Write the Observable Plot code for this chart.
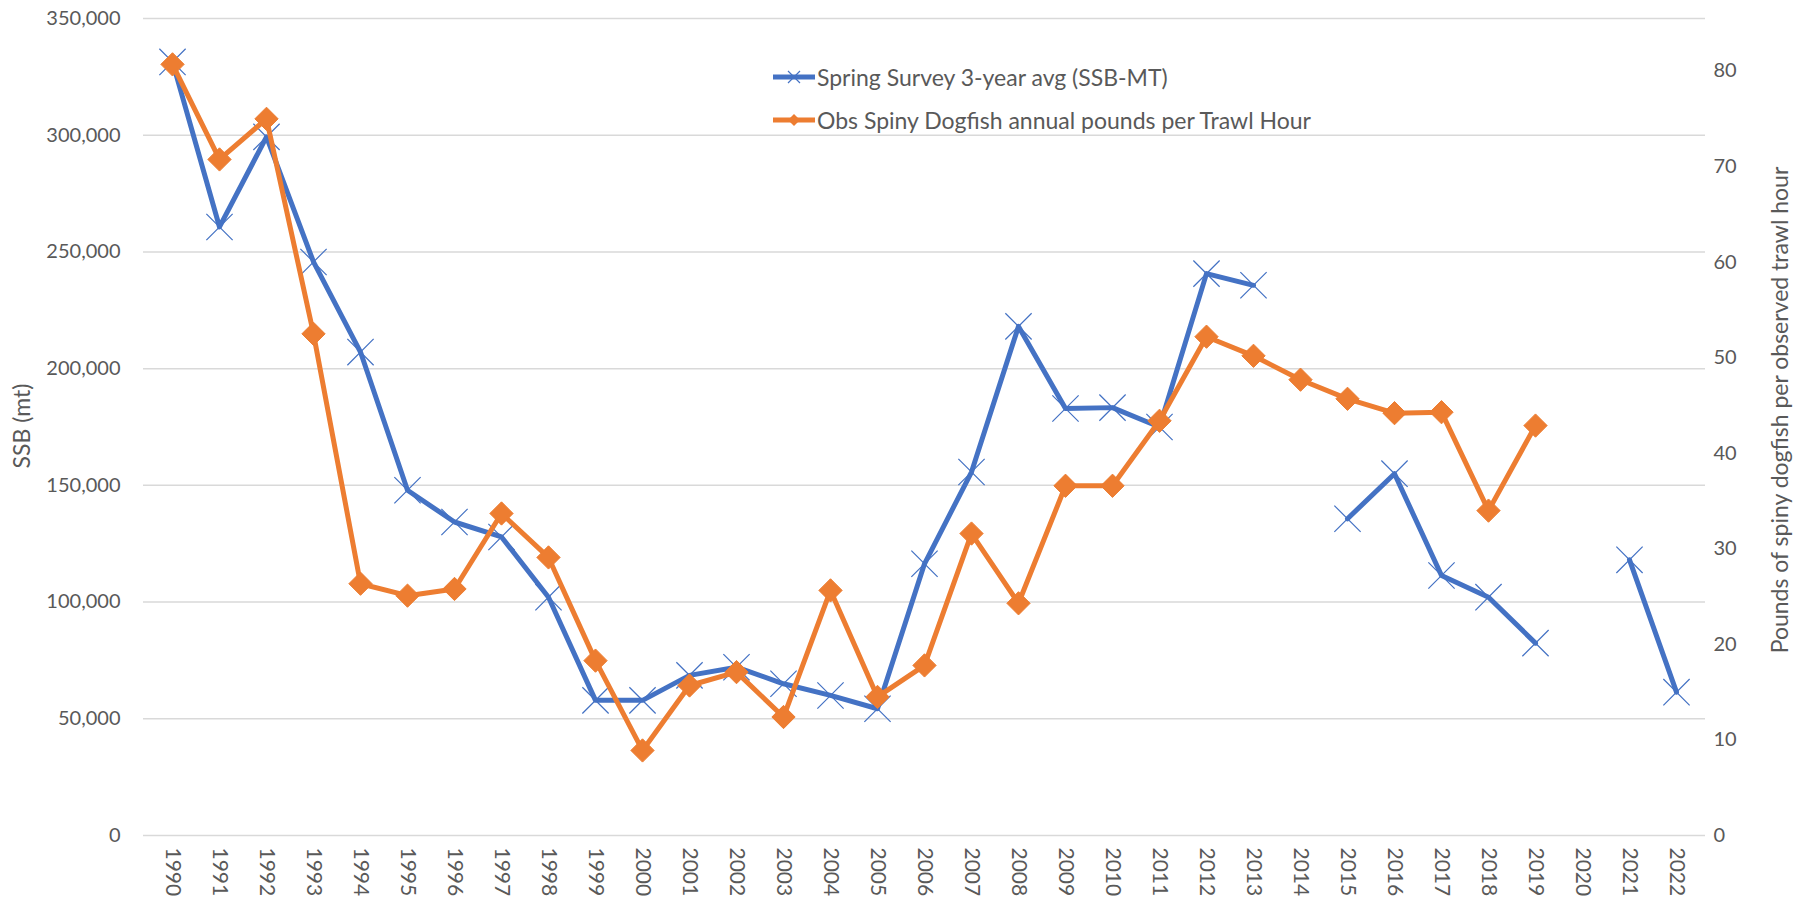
<!DOCTYPE html>
<html>
<head>
<meta charset="utf-8">
<script src="https://cdn.jsdelivr.net/npm/d3@7"></script>
<script src="https://cdn.jsdelivr.net/npm/@observablehq/plot@0.6"></script>
<style>
  body { margin: 0; background: #fff; font-family: Lato, "Open Sans", sans-serif; }
  #wrap { position: relative; width: 1802px; height: 903px; overflow: hidden; }
  #legend { position: absolute; left: 772px; top: 55px; font-size: 23px; color: #595959; }
  .row { display: flex; align-items: center; height: 43px; white-space: nowrap; }
  .row svg { margin-right: 1px; }
  .ytitle { position: absolute; font-size: 23px; color: #595959; white-space: nowrap; transform: translate(-50%, -50%) rotate(-90deg); }
  .xt text { font-size: 21px; }
</style>
</head>
<body>
<div id="wrap">
  <div id="chart"></div>
  <div id="legend"></div>
  <div class="ytitle" style="left:21px; top:426px;">SSB (mt)</div>
  <div class="ytitle" style="left:1779px; top:410px;">Pounds of spiny dogfish per observed trawl hour</div>
</div>
<script>
// ---- data ----
const years = ["1990","1991","1992","1993","1994","1995","1996","1997","1998","1999",
  "2000","2001","2002","2003","2004","2005","2006","2007","2008","2009",
  "2010","2011","2012","2013","2014","2015","2016","2017","2018","2019",
  "2020","2021","2022"];
const ssbSpring = [331400, 260700, 299300, 245700, 207100, 147900, 134300, 127900, 102100, 57900,
  57900, 68600, 72100, 65000, 60000, 54300, 116400, 155700, 218100, 182900,
  183300, 175000, 240700, 235700, null, 135700, 155000, 111400, 102100, 82400,
  null, 118100, 61400];
const obsLbsPerHour = [80.7, 70.75, 75.0, 52.5, 26.35, 25.1, 25.8, 33.7, 29.1, 18.3,
  8.9, 15.7, 17.1, 12.4, 25.65, 14.5, 17.8, 31.6, 24.3, 36.6,
  36.6, 43.4, 52.2, 50.2, 47.7, 45.7, 44.2, 44.3, 34.0, 42.9,
  null, null, null];
const leftTicks = [0, 50000, 100000, 150000, 200000, 250000, 300000, 350000];
const rightTicks = [0, 10, 20, 30, 40, 50, 60, 70, 80];
const seriesNames = ["Spring Survey 3-year avg (SSB-MT)", "Obs Spiny Dogfish annual pounds per Trawl Hour"];
const leftMax = 350000, rightMax = 85.5;

// ---- build ----
const k = leftMax / rightMax;
const blue = "#4472C4", orange = "#ED7D31";
const data = years.map((y, i) => ({
  year: y,
  ssb: ssbSpring[i],
  lbs: obsLbsPerHour[i] == null ? null : obsLbsPerHour[i] * k
}));

const chart = Plot.plot({
  width: 1802,
  height: 903,
  marginLeft: 143,
  marginRight: 97,
  marginTop: 18,
  marginBottom: 68,
  style: { fontFamily: "Lato, 'Open Sans', sans-serif", fontSize: "20px", color: "#595959", background: "#fff" },
  x: { type: "point", domain: years, padding: 0.5 },
  y: { domain: [0, leftMax] },
  marks: [
    Plot.gridY(leftTicks, { stroke: "#d9d9d9", strokeOpacity: 1, strokeWidth: 1.5 }),
    Plot.axisY(leftTicks, { anchor: "left", tickSize: 0, tickPadding: 23, tickFormat: d3.format(","), label: null, fill: "#595959" }),
    Plot.axisY(rightTicks.map(v => v * k), { anchor: "right", tickSize: 0, tickPadding: 8, tickFormat: d => String(Math.round(d / k)), label: null, fill: "#595959", textAnchor: "start" }),
    Plot.axisX({ tickSize: 0, tickRotate: 90, tickPadding: 12, label: null, fill: "#595959", className: "xt" }),
    Plot.line(data, { x: "year", y: "ssb", stroke: blue, strokeWidth: 5, strokeLinejoin: "round" }),
    Plot.dot(data.filter(d => d.ssb != null), { x: "year", y: "ssb", symbol: "times", r: 12, stroke: blue, strokeWidth: 1.2 }),
    Plot.line(data, { x: "year", y: "lbs", stroke: orange, strokeWidth: 5, strokeLinejoin: "round" }),
    Plot.dot(data.filter(d => d.lbs != null), { x: "year", y: "lbs", symbol: "diamond2", r: 10.5, fill: orange, stroke: orange, strokeWidth: 1 })
  ]
});
document.getElementById("chart").appendChild(chart);

// ---- legend ----
const legend = document.getElementById("legend");
const swatches = [
  `<svg width="44" height="20"><line x1="1" y1="10" x2="43" y2="10" stroke="${blue}" stroke-width="5"/><path d="M16,4L28,16M28,4L16,16" stroke="${blue}" stroke-width="1.2"/></svg>`,
  `<svg width="44" height="20"><line x1="1" y1="10" x2="43" y2="10" stroke="${orange}" stroke-width="5"/><path d="M22,4L28,10L22,16L16,10Z" fill="${orange}"/></svg>`
];
seriesNames.forEach((name, i) => {
  const row = document.createElement("div");
  row.className = "row";
  row.innerHTML = swatches[i] + `<span>${name}</span>`;
  legend.appendChild(row);
});
</script>
</body>
</html>
